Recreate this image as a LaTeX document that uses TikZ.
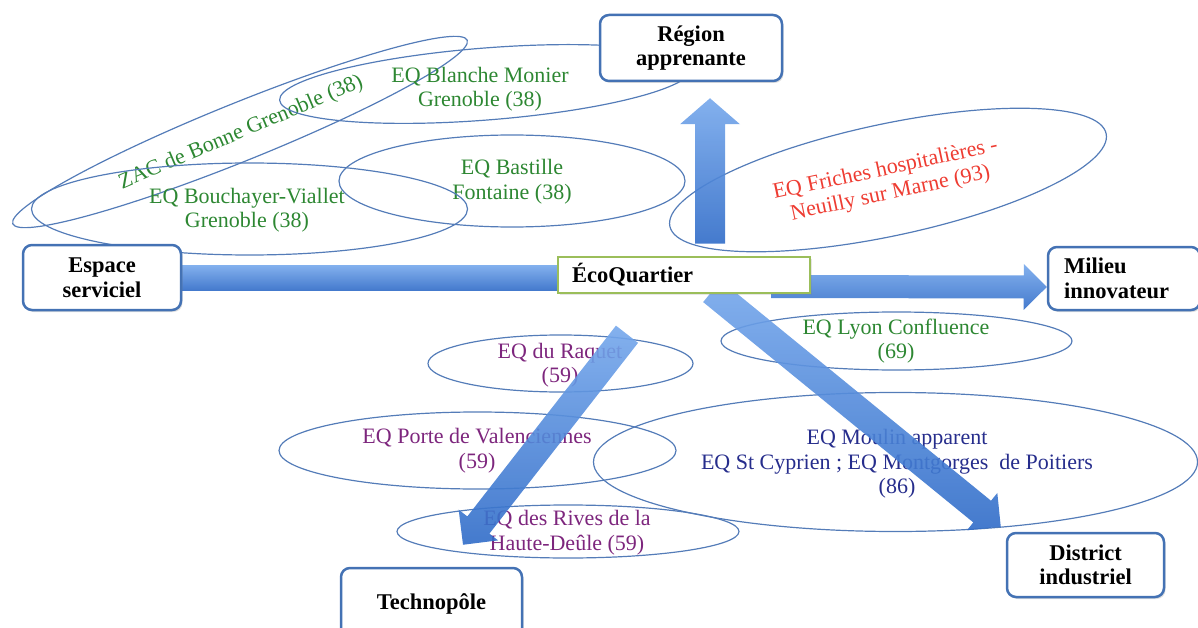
\documentclass[tikz,border=0pt]{standalone}
\usepackage{fontspec}
\setmainfont{Liberation Serif}
\usetikzlibrary{shapes.geometric,calc,shadows}

\definecolor{boxblue}{RGB}{68,114,180}
\definecolor{ellblue}{RGB}{84,124,184}
\definecolor{ecogreen}{RGB}{155,190,90}
\definecolor{arrlight}{RGB}{118,168,236}
\definecolor{arrdark}{RGB}{48,108,200}
\definecolor{txtgreen}{RGB}{45,135,50}
\definecolor{txtred}{RGB}{238,60,50}
\definecolor{txtpurple}{RGB}{125,38,125}
\definecolor{txtnavy}{RGB}{38,45,140}

\pgfdeclarelayer{ell}
\pgfdeclarelayer{arr}
\pgfsetlayers{ell,arr,main}

\newcommand{\blkarrow}[6]{%
  \coordinate (#1h) at ($(#3)!#6!(#2)$);
  \shade[blockarrow] ($(#2)!#4!90:(#3)$) -- ($(#1h)!#4!90:(#3)$) -- ($(#1h)!#5!90:(#3)$) -- (#3) -- ($(#1h)!#5!-90:(#3)$) -- ($(#1h)!#4!-90:(#3)$) -- ($(#2)!#4!-90:(#3)$) -- cycle;}

\begin{document}
\begin{tikzpicture}[x=1pt,y=-1pt,
  eqell/.style={draw=ellblue, line width=1.2pt, ellipse, inner sep=0pt},
  eqtxt/.style={align=center, inner sep=0pt, font=\fontsize{22}{24.5}\selectfont},
  bigbox/.style={draw=boxblue, line width=2.5pt, rounded corners=9pt, fill=white, align=center,
    font=\fontsize{22.5}{24.5}\selectfont\bfseries, inner sep=0pt,
    drop shadow={opacity=0.25,shadow xshift=1.5pt,shadow yshift=-2pt}},
  blockarrow/.style={top color=arrlight, bottom color=arrdark, opacity=0.9}
]
\useasboundingbox (0,0) rectangle (1198,628);

% boxes
\node[bigbox, minimum width=182pt, minimum height=66pt] (reg) at (691,48) {Région\\apprenante};
\node[bigbox, minimum width=158pt, minimum height=65pt] (esp) at (102,277.5) {Espace\\serviciel};
\node[bigbox, minimum width=152pt, minimum height=63pt, align=left, text width=120pt] (mil) at (1124,278.5) {Milieu\\innovateur};
\node[bigbox, minimum width=157pt, minimum height=64pt] (dis) at (1085.5,565) {District\\industriel};
\node[bigbox, minimum width=181pt, minimum height=72pt] (tec) at (431.5,604) {Technopôle};
\node[draw=ecogreen, line width=2.5pt, fill=white, minimum width=252pt, minimum height=36pt,
  text width=224pt, align=left, inner sep=0pt, font=\fontsize{22.5}{24.5}\selectfont\bfseries,
  drop shadow={opacity=0.2,shadow xshift=1.5pt,shadow yshift=-2pt}] (eco) at (684,275) {ÉcoQuartier};

% ellipses and their texts
\begin{pgfonlayer}{ell}
\node[eqell, minimum width=490pt, minimum height=58pt, rotate=22] (zacE) at (240,132) {};
\node[eqtxt, text=txtgreen, rotate=23] (zacT) at (241,133) {ZAC de Bonne Grenoble (38)};
\node[eqell, minimum width=414pt, minimum height=72pt, rotate=4.5] (blaE) at (486,84) {};
\node[eqtxt, text=txtgreen] (blaT) at (480,89) {EQ Blanche Monier\\Grenoble (38)};
\node[eqell, minimum width=346pt, minimum height=92pt] (basE) at (512,181) {};
\node[eqtxt, text=txtgreen] (basT) at (512,181.5) {EQ Bastille\\Fontaine (38)};
\node[eqell, minimum width=436pt, minimum height=92pt] (bouE) at (249.5,209) {};
\node[eqtxt, text=txtgreen] (bouT) at (247,210) {EQ Bouchayer-Viallet\\Grenoble (38)};
\node[eqell, minimum width=446pt, minimum height=112pt, rotate=12] (friE) at (888,180) {};
\node[eqtxt, text=txtred, rotate=12] (friT) at (888,182) {EQ Friches hospitalières -\\Neuilly sur Marne (93)};
\node[eqell, minimum width=351pt, minimum height=58pt] (lyoE) at (896.5,341) {};
\node[eqtxt, text=txtgreen] (lyoT) at (896,341) {EQ Lyon Confluence\\(69)};
\node[eqell, minimum width=604pt, minimum height=139pt] (mouE) at (895.5,462) {};
\node[eqtxt, text=txtnavy] (mouT) at (897,464) {EQ Moulin apparent\\EQ St Cyprien ; EQ Montgorges\ \ de Poitiers\\(86)};
\node[eqell, minimum width=265pt, minimum height=57pt] (raqE) at (560.5,363.5) {};
\node[eqtxt, text=txtpurple] (raqT) at (560,365) {EQ du Raquet\\(59)};
\node[eqell, minimum width=397pt, minimum height=77pt] (porE) at (477.5,450.5) {};
\node[eqtxt, text=txtpurple] (porT) at (477,450.5) {EQ Porte de Valenciennes\\(59)};
\node[eqell, minimum width=342pt, minimum height=53pt] (rivE) at (568,531.5) {};
\node[eqtxt, text=txtpurple] (rivT) at (567,532.5) {EQ des Rives de la\\Haute-Deûle (59)};
\end{pgfonlayer}

% block arrows
\begin{pgfonlayer}{arr}
\shade[blockarrow] ($(esp.east)+(-10,-12.5)$) rectangle ($(eco.west)+(10,15)$);
\coordinate (upA) at ($(eco.north)+(26,-12)$);
\coordinate (upB) at ($(reg.south)+(19,16)$);
\blkarrow{up}{upA}{upB}{15pt}{30pt}{26pt}
\coordinate (rtA) at ($(eco.east)+(-40,11.5)$);
\coordinate (rtB) at ($(mil.west)+(0,8.5)$);
\blkarrow{rt}{rtA}{rtB}{11.5pt}{23pt}{23pt}
\coordinate (drA) at ($(eco.south)+(28,-3)$);
\coordinate (drB) at ($(dis.north west)+(-5,-5)$);
\blkarrow{dr}{drA}{drB}{14pt}{24pt}{24pt}
\coordinate (dlA) at ($(eco.south)+(-57,40)$);
\coordinate (dlB) at ($(tec.north)+(31.5,-22)$);
\blkarrow{dl}{dlA}{dlB}{14pt}{25pt}{25pt}
\end{pgfonlayer}
\end{tikzpicture}
\end{document}
